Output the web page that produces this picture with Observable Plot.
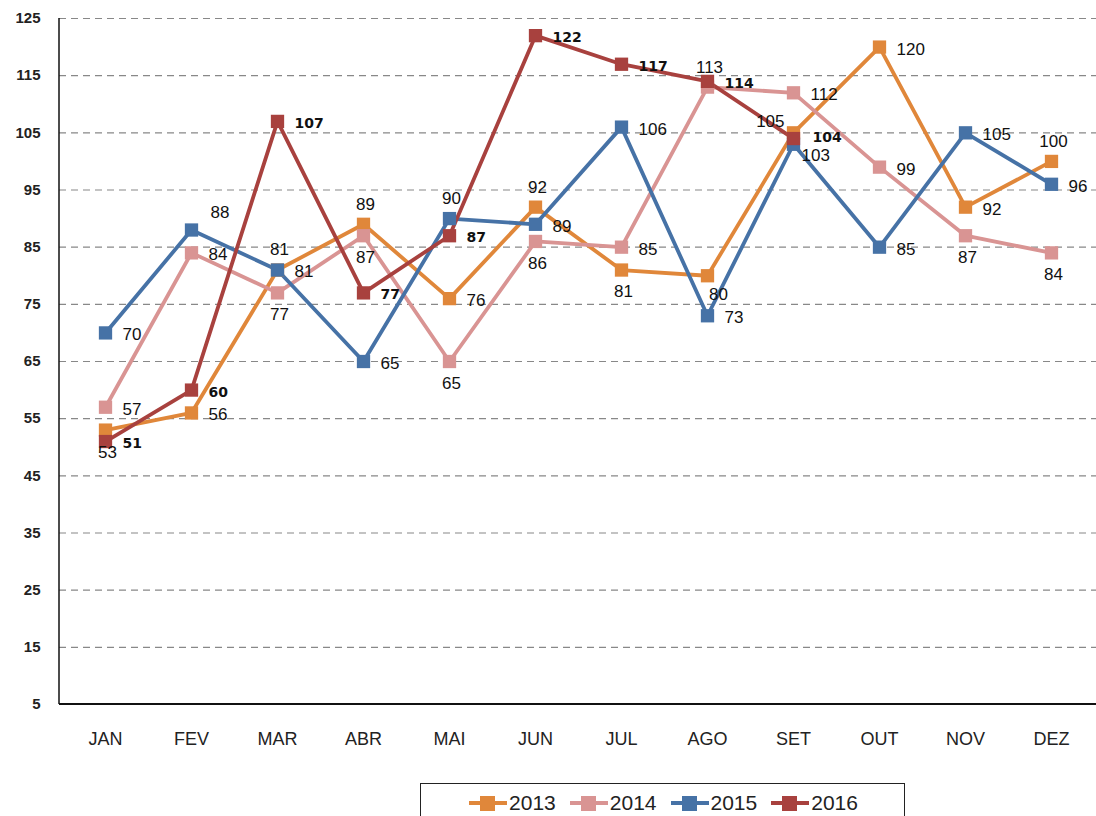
<!DOCTYPE html>
<html>
<head>
<meta charset="utf-8">
<script src="https://cdn.jsdelivr.net/npm/d3@7"></script>
<script src="https://cdn.jsdelivr.net/npm/@observablehq/plot@0.6"></script>
<style>
  body { margin: 0; background: #fff; }
  #chart { width: 1096px; }
  .legend { position: absolute; left: 420px; top: 783px; width: 485px; height: 40px;
    border: 1.5px solid #222; box-sizing: border-box; display: flex; align-items: center;
    justify-content: center; gap: 12px; font-family: "Liberation Sans", Arial, sans-serif; font-size: 21px; color: #222; background: #fff; }
  .legend .item { display: flex; align-items: center; gap: 0px; }
</style>
</head>
<body>
<div id="chart"></div>
<script>
const months = ["JAN","FEV","MAR","ABR","MAI","JUN","JUL","AGO","SET","OUT","NOV","DEZ"];
const years = ["2013","2014","2015","2016"];
const colors = ["#E0873A","#D99493","#4672A6","#A8413E"];
const yTicks = [5,15,25,35,45,55,65,75,85,95,105,115,125];

const values2013 = [53,56,81,89,76,92,81,80,105,120,92,100];
const values2014 = [57,84,77,87,65,86,85,113,112,99,87,84];
const values2015 = [70,88,81,65,90,89,106,73,103,85,105,96];
const values2016 = [51,60,107,77,87,122,117,114,104];

// label placement codes (style only): r=right, t=top, b=bottom, tr=top-right, tl=top-left, br=bottom-right, rb=right-low, ru=right-high
const labelPos2013 = ["b","r","r","t","r","t","b","br","tl","r","r","t"];
const labelPos2014 = ["r","r","b","b","b","b","r","t","r","r","b","b"];
const labelPos2015 = ["r","tr","t","r","t","r","r","r","rb","r","r","r"];
const labelPos2016 = ["r","r","r","r","r","r","r","r","ru"];

const series = [values2013, values2014, values2015, values2016];
const positions = [labelPos2013, labelPos2014, labelPos2015, labelPos2016];
const rows = [];
series.forEach((vals, i) => vals.forEach((v, j) => rows.push({month: months[j], year: years[i], value: v, pos: positions[i][j]})));

const offsets = {
  r:  {dx: 17, dy: 2, anchor: "start"},
  ru: {dx: 19, dy: -1, anchor: "start"},
  t:  {dx: 2, dy: -20, anchor: "middle"},
  b:  {dx: 2, dy: 22, anchor: "middle"},
  tr: {dx: 19, dy: -17, anchor: "start"},
  tl: {dx: -9, dy: -11, anchor: "end"},
  br: {dx: 11, dy: 19, anchor: "middle"},
  rb: {dx: 8, dy: 11, anchor: "start"}
};

const labelFont = "Liberation Sans, Arial, sans-serif";
const textMarks = [];
for (const [code, o] of Object.entries(offsets)) {
  for (let i = 0; i < 4; i++) {
    const bold = years[i] === "2016";
    textMarks.push(Plot.text(rows.filter(d => d.pos === code && d.year === years[i]), {
      x: "month", y: "value", text: d => String(d.value),
      dx: o.dx, dy: o.dy, textAnchor: o.anchor,
      fill: "#111",
      fontFamily: bold ? "DejaVu Sans, Verdana, sans-serif" : labelFont,
      fontWeight: bold ? "bold" : "normal",
      fontSize: bold ? 14 : 17
    }));
  }
}

const plot = Plot.plot({
  width: 1096,
  height: 772,
  marginLeft: 59,
  marginRight: 0,
  marginTop: 18,
  marginBottom: 68,
  style: {background: "#fff", overflow: "visible"},
  x: {type: "point", domain: months, padding: 0.5, label: null},
  y: {domain: [5,125], ticks: yTicks, label: null},
  marks: [
    Plot.ruleY(yTicks.filter(t => t > 5), {stroke: "#888", strokeDasharray: "7,5", strokeWidth: 1.2}),
    Plot.axisY({ticks: yTicks, tickSize: 0, tickPadding: 19, label: null,
      fontFamily: "Liberation Sans, sans-serif", fontWeight: "bold", fontSize: 15, fill: "#222"}),
    Plot.axisX({tickSize: 0, tickPadding: 28, label: null,
      fontFamily: "Liberation Sans, sans-serif", fontSize: 18, fill: "#222"}),
    ...years.map((yr, i) => Plot.line(rows.filter(d => d.year === yr), {x: "month", y: "value", stroke: colors[i], strokeWidth: 3.8})),
    ...years.map((yr, i) => Plot.dot(rows.filter(d => d.year === yr), {x: "month", y: "value", symbol: "square", r: 7.5, fill: colors[i], stroke: "none"})),
    ...textMarks
  ]
});
document.getElementById("chart").appendChild(plot);

// axis lines drawn using the plot's own y scale
const svg = d3.select(plot);
const yS = plot.scale("y");
const x0 = 59;
svg.append("line").attr("x1", x0).attr("x2", x0).attr("y1", yS.apply(125)).attr("y2", yS.apply(5))
  .attr("stroke", "#111").attr("stroke-width", 1.5);
svg.append("line").attr("x1", x0).attr("x2", 1096).attr("y1", yS.apply(5)).attr("y2", yS.apply(5))
  .attr("stroke", "#111").attr("stroke-width", 2);

// legend
const legend = document.createElement("div");
legend.className = "legend";
years.forEach((yr, i) => {
  const item = document.createElement("div");
  item.className = "item";
  item.innerHTML = `<svg width="42" height="20"><line x1="2" x2="40" y1="10" y2="10" stroke="${colors[i]}" stroke-width="4"/><rect x="13" y="3" width="15" height="15" fill="${colors[i]}"/></svg><span>${yr}</span>`;
  legend.appendChild(item);
});
document.body.appendChild(legend);
</script>
</body>
</html>
